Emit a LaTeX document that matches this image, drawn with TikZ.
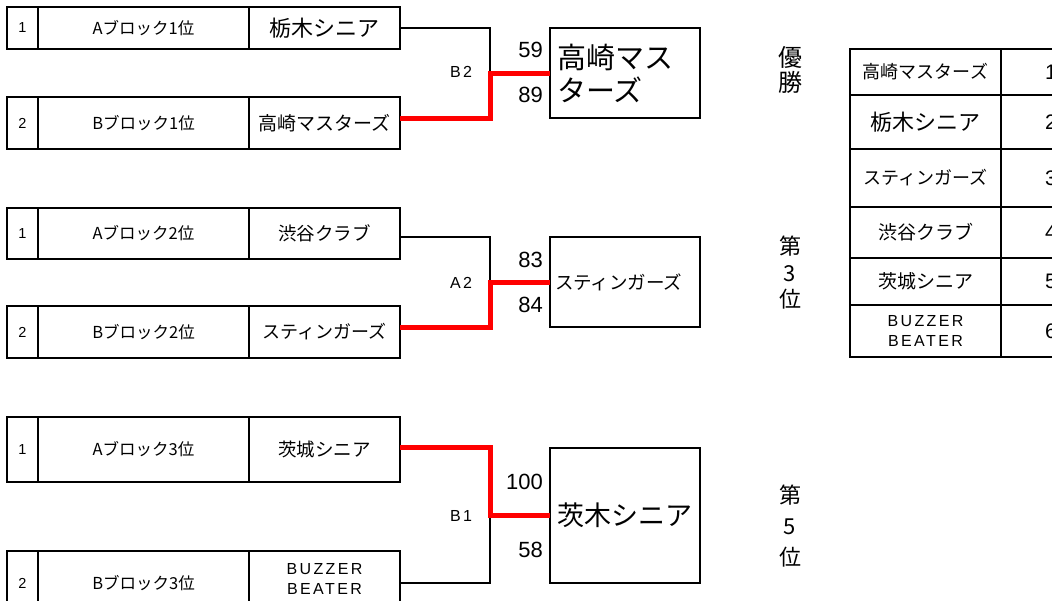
\documentclass[tikz,border=0pt]{standalone}
\usepackage{fontspec}
\setmainfont{Noto Sans CJK JP}
\newfontfamily\lat{Liberation Sans}
\newfontfamily\latsp[LetterSpace=15]{Liberation Sans}
\tikzset{
  cell/.style={draw, line width=2pt, inner sep=0pt, outer sep=0pt, anchor=north west, align=center},
  conn/.style={line width=1.5pt, black},
  win/.style={line width=5pt, red},
  score/.style={font=\lat\fontsize{22}{24}\selectfont, inner sep=0pt, anchor=east},
  jlabel/.style={font=\latsp\fontsize{16}{18}\selectfont, inner sep=0pt},
  buzzer/.style={font=\latsp\fontsize{16}{20}\selectfont},
  rank/.style={font=\lat\fontsize{21}{24}\selectfont, inner sep=0pt},
  place/.style={align=center, inner sep=0pt}
}
% #1 id, #2 top y, #3 height, #4 number, #5 block text, #6 team font, #7 team text
\newcommand\bracketrow[7]{%
  \node[cell, minimum width=31pt, minimum height=#3pt, font=\lat\fontsize{14.5}{16}\selectfont] (n#1) at (7,#2) {#4};
  \node[cell, minimum width=211pt, minimum height=#3pt, font=\fontsize{16.5}{18}\selectfont] (b#1) at (n#1.north east) {#5};
  \node[cell, minimum width=151pt, minimum height=#3pt, #6] (t#1) at (b#1.north east) {#7};
}
\begin{document}
\begin{tikzpicture}[x=1pt,y=-1pt]
\useasboundingbox (0,0) rectangle (1052,600);
\fill[white] (0,0) rectangle (1052,600);
\clip (0,0) rectangle (1052,600);

% bracket rows
\bracketrow{1}{7}{42}{1}{Aブロック1位}{font=\fontsize{22}{24}\selectfont}{栃木シニア}
\bracketrow{2}{97}{52}{2}{Bブロック1位}{font=\fontsize{19}{21}\selectfont}{高崎マスターズ}
\bracketrow{3}{208}{51}{1}{Aブロック2位}{font=\fontsize{18.5}{21}\selectfont}{渋谷クラブ}
\bracketrow{4}{306}{52}{2}{Bブロック2位}{font=\fontsize{18}{21}\selectfont}{スティンガーズ}
\bracketrow{5}{417}{65}{1}{Aブロック3位}{font=\fontsize{18.5}{21}\selectfont}{茨城シニア}
\bracketrow{6}{551}{65}{2}{Bブロック3位}{buzzer}{BUZZER\\BEATER\\[-10pt]\mbox{}}

% result boxes
\node[cell, minimum width=150pt, minimum height=90pt, text width=136pt, align=left,
      font=\fontsize{29}{33}\selectfont] (r1) at (550,28) {高崎マス\\ターズ};
\node[cell, minimum width=150pt, minimum height=90pt, text width=140pt, align=left,
      font=\fontsize{18.5}{21}\selectfont] (r2) at (550,237) {スティンガーズ};
\node[cell, minimum width=150pt, minimum height=135pt,
      font=\fontsize{27}{30}\selectfont] (r3) at (550,448) {茨木シニア};

% junctions
\path (r1.west) ++(-60,0) coordinate (j1);
\path (r2.west) ++(-60,0) coordinate (j2);
\path (r3.west) ++(-60,0) coordinate (j3);

% connectors
\draw[conn] (t1.east) -| (j1);
\draw[win] ([yshift=4.5pt]t2.east) -| (j1) -- (r1.west);
\draw[conn] ([yshift=-3.5pt]t3.east) -| (j2);
\draw[win] ([yshift=5pt]t4.east) -| (j2) -- (r2.west);
\draw[conn] ([yshift=0.5pt]t6.east) -| (j3);
\draw[win] ([yshift=2.5pt]t5.east) -| (j3) -- (r3.west);

% match labels
\node[jlabel] (m1) at (461,72) {B2};
\node[jlabel] (m2) at (461,283) {A2};
\node[jlabel] (m3) at (461,516) {B1};

% scores
\node[score] (s1) at (543,50) {59};
\node[score] (s2) at (543,95) {89};
\node[score] (s3) at (543,260) {83};
\node[score] (s4) at (543,305) {84};
\node[score] (s5) at (543,482) {100};
\node[score] (s6) at (543,550) {58};

% place labels
\node[place, font=\fontsize{24}{25}\selectfont] (p1) at (790,69.5) {優\\勝};
\node[place, font=\fontsize{22}{26.5}\selectfont] (p2) at (790,273) {第\\3\\位};
\node[place, font=\fontsize{22}{31}\selectfont] (p3) at (790,526) {第\\5\\位};

% ranking table
\node[cell, minimum width=151pt, minimum height=46pt, font=\fontsize{18}{20}\selectfont] (k1) at (850,49) {高崎マスターズ};
\node[cell, minimum width=151pt, minimum height=54pt, font=\fontsize{22}{24}\selectfont] (k2) at (k1.south west) {栃木シニア};
\node[cell, minimum width=151pt, minimum height=58pt, font=\fontsize{18}{20}\selectfont] (k3) at (k2.south west) {スティンガーズ};
\node[cell, minimum width=151pt, minimum height=51pt, font=\fontsize{19}{21}\selectfont] (k4) at (k3.south west) {渋谷クラブ};
\node[cell, minimum width=151pt, minimum height=47pt, font=\fontsize{19}{21}\selectfont] (k5) at (k4.south west) {茨城シニア};
\node[cell, minimum width=151pt, minimum height=52pt, buzzer] (k6) at (k5.south west) {BUZZER\\BEATER};
\foreach \i/\h in {1/46,2/54,3/58,4/51,5/47,6/52}{
  \node[cell, minimum width=99pt, minimum height=\h pt] (q\i) at (k\i.north east) {};
  \node[rank] (v\i) at ([xshift=50pt]k\i.east) {\i};
}
\end{tikzpicture}
\end{document}
